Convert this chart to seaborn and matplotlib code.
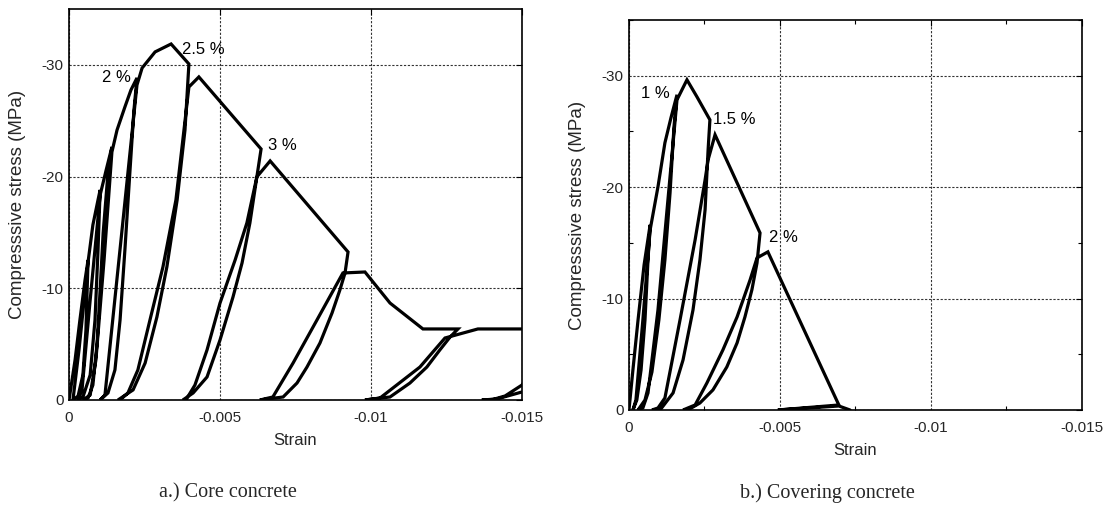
import matplotlib
matplotlib.use("Agg")
import matplotlib.pyplot as plt
import seaborn as sns
import pandas as pd
from matplotlib.ticker import MultipleLocator

# ---------------- data ----------------
core_strain = [
    0, -0.0002, -0.00036, -0.00053, -0.00063,
    -0.00056, -0.00046, -0.0003, -0.00013,
    -0.00033, -0.00063,
    -0.00079, -0.00096, -0.00103,
    -0.00096, -0.00086, -0.0007, -0.00046, -0.0003,
    -0.00043, -0.0007, -0.00103,
    -0.00123, -0.00142,
    -0.00129, -0.00113, -0.00103, -0.00093, -0.00079, -0.00063, -0.00046,
    -0.0007, -0.00089, -0.00116, -0.00142,
    -0.00159, -0.00185, -0.00205, -0.00225,
    -0.00215, -0.00202, -0.00185, -0.00169, -0.00152, -0.00129, -0.00103,
    -0.00119, -0.00172, -0.00225,
    -0.00242, -0.00285, -0.00338, -0.00397,
    -0.00384, -0.00358, -0.00324, -0.00291, -0.00252, -0.00212, -0.00162,
    -0.00169, -0.00195, -0.00228, -0.00268, -0.00311, -0.00354, -0.00397,
    -0.0043, -0.00636,
    -0.00622, -0.00599, -0.00573, -0.00543, -0.005, -0.00457, -0.00411, -0.00377,
    -0.00387, -0.00417, -0.00457, -0.005, -0.0055, -0.00589, -0.00622, -0.00666,
    -0.00924,
    -0.00914, -0.00897, -0.00871, -0.00831, -0.00788, -0.00755, -0.00709, -0.00632,
    -0.00675, -0.00742, -0.00821, -0.00907,
    -0.0098, -0.01063, -0.01172, -0.01288,
    -0.01262, -0.01228, -0.01185, -0.01129, -0.01063, -0.0098,
    -0.0103, -0.01162, -0.01245, -0.01354, -0.01626,
    -0.0156, -0.015, -0.01444, -0.01404, -0.01367,
    -0.01417, -0.015, -0.0158,
]
core_stress = [
    0, -3.58, -7.16, -10.74, -12.53,
    -6.27, -2.24, -0.36, 0,
    -4.48, -12.35,
    -15.67, -17.91, -18.8,
    -13.43, -7.16, -2.24, -0.27, 0,
    -0.9, -8.95, -18.35,
    -20.59, -22.65,
    -20.32, -14.95, -9.85, -5.1, -1.34, -0.18, 0,
    -0.45, -3.58, -12.53, -22.2,
    -24.17, -26.23, -27.75, -28.83,
    -25.96, -20.59, -13.43, -7.16, -2.69, -0.63, 0,
    -0.45, -14.3, -28.2,
    -29.72, -31.16, -31.87, -30.08,
    -24.17, -17.91, -11.91, -7.43, -3.31, -0.9, 0,
    0, -0.63, -2.69, -7.16, -11.91, -17.91, -28.02,
    -28.92, -22.47,
    -19.97, -15.85, -12.27, -9.22, -5.37, -2.06, -0.63, 0,
    0, -1.34, -4.48, -8.68, -12.53, -15.85, -19.97, -21.4,
    -13.25,
    -11.37, -9.85, -7.79, -5.1, -2.95, -1.52, -0.27, 0,
    -0.27, -3.31, -7.16, -11.37,
    -11.46, -8.68, -6.36, -6.36,
    -5.64, -4.48, -2.95, -1.52, -0.27, 0,
    -0.18, -2.95, -5.55, -6.36, -6.36,
    -3.58, -1.34, -0.36, -0.05, 0,
    -0.09, -0.72, -1.3,
]

cover_strain = [
    0, -0.00013, -0.0003, -0.0005, -0.0007,
    -0.00063, -0.00053, -0.0004, -0.00026, -0.00013,
    -0.00023, -0.00046, -0.0007,
    -0.00096, -0.00119, -0.00139, -0.00159,
    -0.00149, -0.00136, -0.00119, -0.00099, -0.00076, -0.00053, -0.0003,
    -0.00046, -0.00063, -0.00096, -0.00126, -0.00159,
    -0.00192, -0.00225, -0.00268,
    -0.00262, -0.00252, -0.00235, -0.00212, -0.00179, -0.00146, -0.00103,
    -0.00076, -0.00096, -0.00119, -0.00169, -0.00219, -0.00252, -0.00262, -0.00285,
    -0.00434,
    -0.00424, -0.00407, -0.00384, -0.00358, -0.00324, -0.00278, -0.00235, -0.00195,
    -0.00179, -0.00219, -0.00258, -0.00311, -0.00358, -0.00401, -0.00424, -0.0046,
    -0.00695, -0.00493, -0.00695, -0.00732,
]
cover_stress = [
    0, -3.59, -8.08, -13.02, -16.61,
    -13.47, -8.08, -3.59, -0.9, 0,
    -0.9, -8.08, -16.16,
    -20.03, -23.98, -26.22, -28.29,
    -25.41, -19.49, -13.47, -8.08, -3.41, -0.9, 0,
    -0.18, -1.53, -8.98, -17.96, -27.84,
    -29.63, -28.11, -26.04,
    -23.35, -17.96, -13.47, -8.98, -4.49, -1.53, 0,
    0, -0.18, -1.08, -8.08, -15.27, -20.65, -22.45, -24.7,
    -15.89,
    -13.2, -10.78, -8.35, -6.02, -3.86, -1.8, -0.63, 0,
    0, -0.45, -2.42, -5.39, -8.35, -11.67, -13.65, -14.19,
    -0.45, 0, -0.36, 0,
]

core_labels = ["2 %", "2.5 %", "3 %"]
core_label_x = [-0.00110, -0.00374, -0.00659]
core_label_y = [-28.9, -31.4, -22.8]

cover_labels = ["1 %", "1.5 %", "2 %"]
cover_label_x = [-0.00040, -0.00278, -0.00464]
cover_label_y = [-28.4, -26.1, -15.5]

x_ticks = [0, -0.005, -0.01, -0.015]
x_ticklabels = ["0", "-0.005", "-0.01", "-0.015"]
y_ticks = [0, -10, -20, -30]
y_ticklabels = ["0", "-10", "-20", "-30"]

captions = ["a.) Core concrete", "b.) Covering concrete"]

# ---------------- style ----------------
sns.set_theme(style="white")
plt.rcParams["font.family"] = ["Liberation Sans", "DejaVu Sans"]

fig = plt.figure(figsize=(11.17, 5.18), dpi=100)
ax1 = fig.add_axes([0.0618, 0.2278, 0.4055, 0.7548])
ax2 = fig.add_axes([0.5631, 0.2085, 0.4055, 0.7529])

panels = [
    (ax1, core_strain, core_stress, core_labels, core_label_x, core_label_y, False),
    (ax2, cover_strain, cover_stress, cover_labels, cover_label_x, cover_label_y, True),
]

for ax, xs, ys, labs, lx, ly, minor in panels:
    df = pd.DataFrame({"strain": xs, "stress": ys})
    sns.lineplot(data=df, x="strain", y="stress", sort=False, estimator=None,
                 color="black", linewidth=2.3, ax=ax, solid_joinstyle="miter")
    ax.set_xlim(0, -0.015)
    ax.set_ylim(0, -35)
    ax.set_xticks(x_ticks)
    ax.set_xticklabels(x_ticklabels)
    ax.set_yticks(y_ticks)
    ax.set_yticklabels(y_ticklabels)
    if minor:
        ax.xaxis.set_minor_locator(MultipleLocator(0.0025))
        ax.yaxis.set_minor_locator(MultipleLocator(5))
    ax.tick_params(axis="both", which="major", direction="in", length=4, width=0.8,
                   top=True, right=True, labelsize=11, color="black")
    ax.tick_params(axis="x", which="major", pad=8)
    ax.tick_params(axis="y", which="major", pad=4)
    ax.tick_params(axis="both", which="minor", direction="in", length=3, width=0.8,
                   top=True, right=True, bottom=True, left=True, color="black")
    ax.grid(True, which="major", color="#333333", linestyle=(0, (2, 1.5)), linewidth=0.8)
    for s in ax.spines.values():
        s.set_color("black")
        s.set_linewidth(1.2)
    ax.set_xlabel("Strain", fontsize=12)
    ax.set_ylabel("Compresssive stress (MPa)", fontsize=13.5)
    ax.xaxis.set_label_coords(0.5, -0.085)
    ax.yaxis.set_label_coords(-0.095, 0.5)
    for t, x, y in zip(labs, lx, ly):
        ax.text(x, y, t, fontsize=12, ha="left", va="center", color="black")

fig.text(0.204, 0.048, captions[0], family=["Liberation Serif", "DejaVu Serif"],
         fontsize=14.5, ha="center", va="center")
fig.text(0.741, 0.048, captions[1], family=["Liberation Serif", "DejaVu Serif"],
         fontsize=14.5, ha="center", va="center")

fig.savefig("out.png", dpi=100)
